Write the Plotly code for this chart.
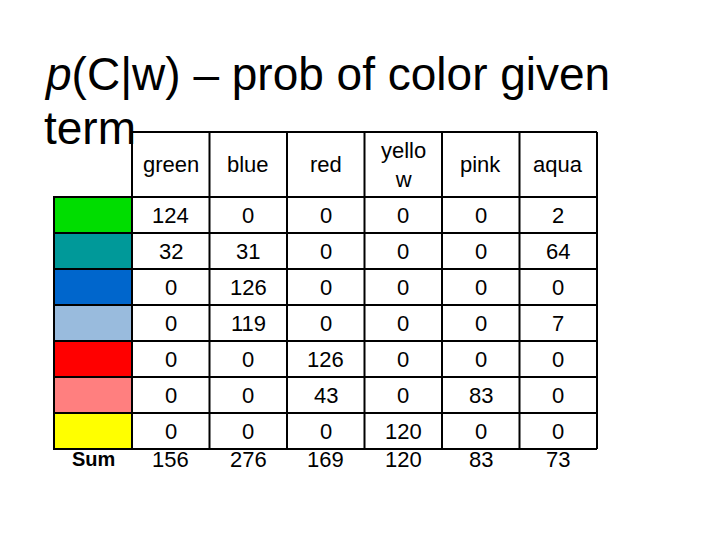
import plotly.graph_objects as go

columns = ["green", "blue", "red", "yello<br>w", "pink", "aqua"]
swatches = ["#00DD00", "#009999", "#0066CC", "#99BBDD", "#FF0000", "#FF7F7F", "#FFFF00"]
values = [
    [124, 0, 0, 0, 0, 2],
    [32, 31, 0, 0, 0, 64],
    [0, 126, 0, 0, 0, 0],
    [0, 119, 0, 0, 0, 7],
    [0, 0, 126, 0, 0, 0],
    [0, 0, 43, 0, 83, 0],
    [0, 0, 0, 120, 0, 0],
]
sums = [156, 276, 169, 120, 83, 73]

x0, cw = 132, 77.5
y_head, y0, rh = 132, 197, 36
xl = 54
ncol, nrow = len(columns), len(values)
xr = x0 + cw * ncol
yb = y0 + rh * nrow

fig = go.Figure()
shapes, ann = [], []
line = dict(color="black", width=2)
for i, c in enumerate(swatches):
    shapes.append(dict(type="rect", x0=xl, x1=x0, y0=y0 + i * rh, y1=y0 + (i + 1) * rh,
                       fillcolor=c, line=line, layer="below"))
shapes.append(dict(type="line", x0=x0, x1=xr, y0=y_head, y1=y_head, line=line))
for i in range(nrow + 1):
    shapes.append(dict(type="line", x0=x0, x1=xr, y0=y0 + i * rh, y1=y0 + i * rh, line=line))
for j in range(ncol + 1):
    shapes.append(dict(type="line", x0=x0 + j * cw, x1=x0 + j * cw, y0=y_head, y1=yb, line=line))

f = dict(family="Liberation Sans, Arial", size=22, color="black")
for j, c in enumerate(columns):
    ann.append(dict(x=x0 + (j + .5) * cw, y=(y_head + y0) / 2, text=c, font=f, showarrow=False))
    for i, row in enumerate(values):
        ann.append(dict(x=x0 + (j + .5) * cw, y=y0 + (i + .5) * rh, text=str(row[j]), font=f, showarrow=False))
    ann.append(dict(x=x0 + (j + .5) * cw, y=yb + 10, text=str(sums[j]), font=f, showarrow=False))
ann.append(dict(x=(xl + x0) / 2, y=yb + 10, text="<b>Sum</b>", font=dict(f, size=20), showarrow=False))
tf = dict(family="Liberation Sans, Arial", size=46, color="black")
ann.append(dict(x=42, y=74, xanchor="left", text="<i>p</i>(C|w) – prob of color given", showarrow=False, font=tf))
ann.append(dict(x=42, y=128, xanchor="left", text="term", showarrow=False, font=tf))

fig.update_layout(width=720, height=540, margin=dict(l=0, r=0, t=0, b=0),
                  plot_bgcolor="white", paper_bgcolor="white", shapes=shapes, annotations=ann,
                  xaxis=dict(range=[8, 728], visible=False, fixedrange=True),
                  yaxis=dict(range=[548, 8], visible=False, fixedrange=True), showlegend=False)
fig.write_html("out.html")
